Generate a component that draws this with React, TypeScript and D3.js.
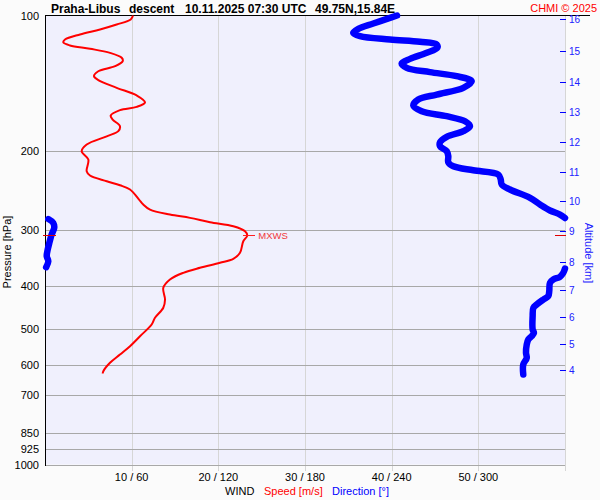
import React from "react";
import * as d3 from "d3";

const W = 600;
const H = 500;
const PLOT = { left: 45, right: 565, top: 15.5, bottom: 464.5 };
const FONT = "'Liberation Sans', Arial, Helvetica, sans-serif";

// Axis ticks
const pressureTicks = [100, 200, 300, 400, 500, 600, 700, 850, 925, 1000];
const windSpeedTicks = [10, 20, 30, 40, 50];
const windDirTicks = [60, 120, 180, 240, 300];
const altitudeKm = [16, 15, 14, 13, 12, 11, 10, 9, 8, 7, 6, 5, 4];
const altitudePressure = [101.8, 119.8, 140.4, 163.8, 191.6, 223.6, 259.3, 301.9, 353.1, 408.0, 469.4, 539.0, 616.0];

// Wind speed profile [hPa] / [m/s]
const speedPressure = [
  100, 102.1, 104.7, 107.4, 110.2, 113.1, 114.7, 116.6, 118.6, 121.1, 124.2, 126.4, 129.7, 133.1, 136.5, 139.3,
  144.9, 150.7, 156.1, 159.8, 162.5, 167.1, 170.5, 176.4, 181.0, 185.8, 193.8, 200.6, 209.3, 222.3, 227.2, 233.9,
  238.8, 244.1, 257.0, 263.6, 270.5, 277.5, 282.3, 288.7, 294.7, 302.3, 309.0, 318.2, 337.7, 348.3, 355.5, 364.7,
  374.2, 387.2, 404.1, 429.1, 447.7, 471.3, 487.8, 518.0, 545.2, 568.9, 593.6, 619.8, 627.1,
];
const speedValue = [
  10.15, 9.89, 8.27, 6.35, 4.04, 2.31, 2.11, 2.88, 5.19, 7.5, 8.85, 8.97, 8.08, 6.15, 5.65, 6.15,
  8.27, 10.58, 11.54, 10.58, 8.65, 7.58, 7.81, 8.65, 8.46, 7.12, 4.81, 4.23, 5.0, 4.81, 5.19, 7.12,
  8.65, 9.81, 10.85, 11.34, 12.12, 14.42, 16.73, 19.04, 21.73, 23.08, 23.34, 22.88, 22.5, 21.73, 20.19, 17.88,
  15.96, 14.42, 13.65, 13.85, 13.65, 12.69, 12.31, 10.96, 9.81, 8.65, 7.5, 6.73, 6.66,
];

// Wind direction profile [hPa] / [deg]
const dirPressure = [
  100, 101.2, 104.2, 107.1, 109.3, 111.2, 113.1, 114.4, 116.0, 118.0, 121.1, 124.9, 127.9, 130.8, 133.7, 136.5,
  140.1, 144.9, 150.0, 153.9, 158.7, 163.4, 167.6, 172.0, 176.4, 181.0, 186.3, 191.5, 195.5, 200.6, 205.8, 212.3,
  216.7, 221.2, 226.0, 231.9, 237.9, 244.1, 254.7, 263.6, 271.8, 277.5, 282.5,
  284.0, 289.6, 297.1, 307.5, 320.9, 332.0, 343.7, 352.6, 363.5,
  366.0, 374.2, 381.9, 387.2, 393.9, 411.1, 421.8, 429.1, 440.2, 447.7, 467.5, 500.5, 509.1, 518.0, 526.9, 540.5,
  564.0, 578.7, 599.0, 630.3,
];
const dirValue = [
  243.7, 238.8, 227.3, 216.9, 213.4, 218.1, 238.8, 259.6, 271.2, 271.6, 264.3, 252.7, 246.9, 250.4, 266.5, 285.0,
  295.4, 289.6, 271.2, 258.4, 255.0, 260.8, 278.1, 290.8, 294.2, 289.6, 278.1, 273.5, 273.5, 278.1, 279.2, 279.2,
  282.7, 296.5, 313.8, 315.5, 316.2, 321.9, 335.8, 342.7, 349.6, 356.5, 360.0,
  2.3, 5.7, 6.4, 4.6, 3.0, 1.9, 1.2, 2.3, 0.8,
  360.0, 358.8, 356.5, 351.9, 349.6, 349.1, 348.4, 345.0, 340.4, 338.1, 337.6, 337.6, 338.5, 336.9, 334.6, 333.5,
  333.0, 333.5, 331.1, 331.1,
];

// Maximum wind
const maxWindPressure = 309;
const maxWindSpeed = 23.34;

export default function App() {
  const xs = d3.scaleLinear().domain([0, 60]).range([PLOT.left, PLOT.right]);
  const xd = d3.scaleLinear().domain([0, 360]).range([PLOT.left, PLOT.right]);
  const y = d3.scaleLog().domain([100, 1000]).range([PLOT.top, PLOT.bottom]);

  const speedPts: [number, number][] = speedPressure.map((p, i) => [xs(speedValue[i]), y(p)]);
  const lineGen = d3.line<[number, number]>().x((d) => d[0]).y((d) => d[1]).curve(d3.curveCatmullRom.alpha(0.5));
  const speedPath = lineGen(speedPts) || "";

  // split direction into segments at wrap-around
  const segments: [number, number][][] = [];
  let cur: [number, number][] = [];
  dirPressure.forEach((p, i) => {
    if (i > 0 && Math.abs(dirValue[i] - dirValue[i - 1]) > 180) {
      segments.push(cur);
      cur = [];
    }
    cur.push([xd(dirValue[i]), y(p)]);
  });
  segments.push(cur);

  const mY = y(maxWindPressure);
  const mX = xs(maxWindSpeed);

  return (
    <svg
      width={W}
      height={H}
      style={{ position: "absolute", left: 0, top: 0, display: "block", fontFamily: FONT }}
    >
      <rect x={0} y={0} width={W} height={H} fill="#fbfbfb" />
      <rect
        x={PLOT.left}
        y={PLOT.top}
        width={PLOT.right - PLOT.left}
        height={PLOT.bottom - PLOT.top}
        fill="#f0f0fd"
      />

      {/* vertical grid */}
      {[...windSpeedTicks, 60].map((t) => (
        <line
          key={"v" + t}
          x1={Math.round(xs(t)) + 0.5}
          x2={Math.round(xs(t)) + 0.5}
          y1={PLOT.top}
          y2={471}
          stroke="#d6d6d6"
          strokeWidth={1}
          shapeRendering="crispEdges"
        />
      ))}

      {/* horizontal grid */}
      {pressureTicks.slice(1).map((p) => (
        <line
          key={"h" + p}
          x1={PLOT.left}
          x2={PLOT.right}
          y1={Math.round(y(p)) + 0.5}
          y2={Math.round(y(p)) + 0.5}
          stroke="#a8a8a8"
          strokeWidth={1}
          shapeRendering="crispEdges"
        />
      ))}

      {/* axes */}
      <line x1={45.5} x2={45.5} y1={15} y2={466} stroke="#000" strokeWidth={1} shapeRendering="crispEdges" />
      <line x1={45} x2={590} y1={15.5} y2={15.5} stroke="#000" strokeWidth={1} shapeRendering="crispEdges" />

      {/* pressure labels */}
      {pressureTicks.map((p) => (
        <text key={"pl" + p} x={39} y={y(p) + 4} fontSize={11} textAnchor="end" fill="#000">
          {p}
        </text>
      ))}

      {/* wind labels */}
      {windSpeedTicks.map((t, i) => (
        <text key={"wl" + t} x={xs(t)} y={481} fontSize={11} textAnchor="middle" fill="#000">
          {`${t} / ${windDirTicks[i]}`}
        </text>
      ))}

      {/* altitude ticks */}
      {altitudeKm.map((k, i) => {
        const yy = Math.round(y(altitudePressure[i])) + 0.5;
        return (
          <g key={"a" + k}>
            <line x1={560} x2={566} y1={yy} y2={yy} stroke="#0000ff" strokeWidth={1} shapeRendering="crispEdges" />
            <text x={569} y={yy + 3.5} fontSize={10} fill="#2020ff">
              {k}
            </text>
          </g>
        );
      })}

      {/* wind direction */}
      {segments.map((s, i) => (
        <path
          key={"d" + i}
          d={lineGen(s) || ""}
          fill="none"
          stroke="#0000ff"
          strokeWidth={6.5}
          strokeLinecap="round"
          strokeLinejoin="round"
        />
      ))}

      {/* wind speed */}
      <path d={speedPath} fill="none" stroke="#ff0000" strokeWidth={2} strokeLinejoin="round" />

      {/* max wind markers */}
      <line x1={43} x2={56} y1={Math.round(mY) + 0.5} y2={Math.round(mY) + 0.5} stroke="#e00000" strokeWidth={1} shapeRendering="crispEdges" />
      <line x1={555} x2={566} y1={Math.round(mY) + 0.5} y2={Math.round(mY) + 0.5} stroke="#e00000" strokeWidth={1} shapeRendering="crispEdges" />
      <line x1={mX - 4} x2={mX + 8} y1={Math.round(mY) + 0.5} y2={Math.round(mY) + 0.5} stroke="#ff2020" strokeWidth={1} shapeRendering="crispEdges" />
      <text x={mX + 11} y={mY + 4} fontSize={9.5} fill="#f03838">
        MXWS
      </text>

      {/* title */}
      <g fontSize={12} fontWeight="bold" fill="#000">
        <text x={51} y={13}>Praha-Libus</text>
        <text x={129} y={13}>descent</text>
        <text x={185} y={13}>10.11.2025 07:30 UTC</text>
        <text x={315} y={13}>49.75N,15.84E</text>
      </g>
      <text x={597} y={12} fontSize={11} textAnchor="end" fill="#ff0000">
        CHMI © 2025
      </text>

      {/* axis titles */}
      <text transform="translate(11,252) rotate(-90)" fontSize={11} textAnchor="middle" fill="#000">
        Pressure [hPa]
      </text>
      <text transform="translate(585,253) rotate(90)" fontSize={11} textAnchor="middle" fill="#2020ff">
        Altitude [km]
      </text>

      <text x={225} y={495} fontSize={11} fill="#000">WIND</text>
      <text x={264} y={495} fontSize={11} fill="#ff0000">Speed [m/s]</text>
      <text x={332} y={495} fontSize={11} fill="#0000ff">Direction [°]</text>
    </svg>
  );
}
